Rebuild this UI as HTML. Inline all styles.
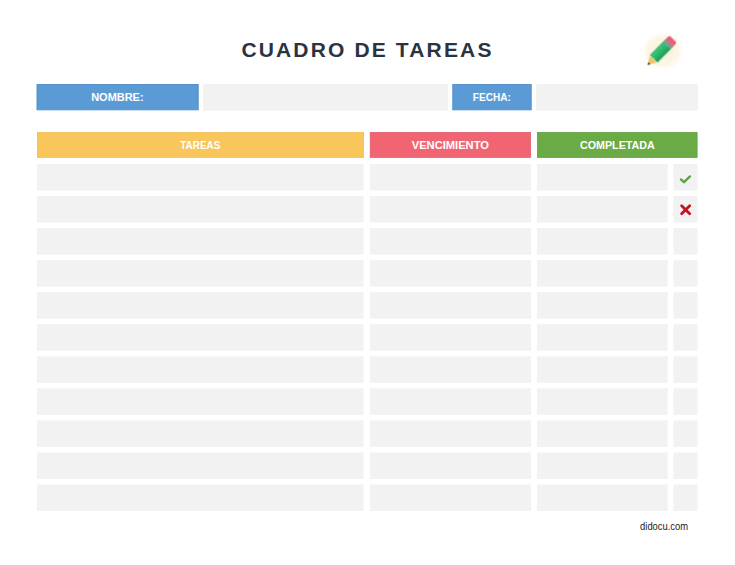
<!DOCTYPE html>
<html><head><meta charset="utf-8">
<title>Cuadro de tareas</title>
<style>
html,body{margin:0;padding:0;background:#fff;}
body{width:735px;height:565px;position:relative;overflow:hidden;font-family:"Liberation Sans",sans-serif;}
.b{position:absolute;box-sizing:border-box;}
#foot{position:absolute;left:639.5px;top:519.5px;font-size:10px;color:#222;line-height:14px;white-space:nowrap;transform-origin:0 50%;transform:scaleX(.945);will-change:transform;}
.t{position:absolute;color:transparent;font-weight:bold;white-space:nowrap;text-align:center;font-size:11.5px;line-height:26px;}
</style></head><body>
<svg class="b" style="left:0;top:0" width="735" height="565" viewBox="0 0 735 565">
<g fill="#f2f2f2">
<rect x="203" y="84" width="245" height="26.7"/>
<rect x="536.2" y="84" width="161.8" height="26.7"/>
<rect x="37" y="164.00" width="326.5" height="26.5"/>
<rect x="369.8" y="164.00" width="161.2" height="26.5"/>
<rect x="537" y="164.00" width="130.7" height="26.5"/>
<rect x="673.4" y="164.00" width="24.1" height="26.5"/>
<rect x="37" y="196.05" width="326.5" height="26.5"/>
<rect x="369.8" y="196.05" width="161.2" height="26.5"/>
<rect x="537" y="196.05" width="130.7" height="26.5"/>
<rect x="673.4" y="196.05" width="24.1" height="26.5"/>
<rect x="37" y="228.10" width="326.5" height="26.5"/>
<rect x="369.8" y="228.10" width="161.2" height="26.5"/>
<rect x="537" y="228.10" width="130.7" height="26.5"/>
<rect x="673.4" y="228.10" width="24.1" height="26.5"/>
<rect x="37" y="260.15" width="326.5" height="26.5"/>
<rect x="369.8" y="260.15" width="161.2" height="26.5"/>
<rect x="537" y="260.15" width="130.7" height="26.5"/>
<rect x="673.4" y="260.15" width="24.1" height="26.5"/>
<rect x="37" y="292.20" width="326.5" height="26.5"/>
<rect x="369.8" y="292.20" width="161.2" height="26.5"/>
<rect x="537" y="292.20" width="130.7" height="26.5"/>
<rect x="673.4" y="292.20" width="24.1" height="26.5"/>
<rect x="37" y="324.25" width="326.5" height="26.5"/>
<rect x="369.8" y="324.25" width="161.2" height="26.5"/>
<rect x="537" y="324.25" width="130.7" height="26.5"/>
<rect x="673.4" y="324.25" width="24.1" height="26.5"/>
<rect x="37" y="356.30" width="326.5" height="26.5"/>
<rect x="369.8" y="356.30" width="161.2" height="26.5"/>
<rect x="537" y="356.30" width="130.7" height="26.5"/>
<rect x="673.4" y="356.30" width="24.1" height="26.5"/>
<rect x="37" y="388.35" width="326.5" height="26.5"/>
<rect x="369.8" y="388.35" width="161.2" height="26.5"/>
<rect x="537" y="388.35" width="130.7" height="26.5"/>
<rect x="673.4" y="388.35" width="24.1" height="26.5"/>
<rect x="37" y="420.40" width="326.5" height="26.5"/>
<rect x="369.8" y="420.40" width="161.2" height="26.5"/>
<rect x="537" y="420.40" width="130.7" height="26.5"/>
<rect x="673.4" y="420.40" width="24.1" height="26.5"/>
<rect x="37" y="452.45" width="326.5" height="26.5"/>
<rect x="369.8" y="452.45" width="161.2" height="26.5"/>
<rect x="537" y="452.45" width="130.7" height="26.5"/>
<rect x="673.4" y="452.45" width="24.1" height="26.5"/>
<rect x="37" y="484.50" width="326.5" height="26.5"/>
<rect x="369.8" y="484.50" width="161.2" height="26.5"/>
<rect x="537" y="484.50" width="130.7" height="26.5"/>
<rect x="673.4" y="484.50" width="24.1" height="26.5"/>
</g>
<rect x="37" y="84.5" width="161.2" height="25.3" fill="#5b9bd5" stroke="#5591ca" stroke-width="1"/>
<rect x="452.8" y="84.5" width="78.4" height="25.3" fill="#5b9bd5" stroke="#5591ca" stroke-width="1"/>
<rect x="37.4" y="132.4" width="326.2" height="25" fill="#f8c65a" stroke="#efbf58" stroke-width=".8"/>
<rect x="370.2" y="132.4" width="160.4" height="25" fill="#f16573" stroke="#e05f6e" stroke-width=".8"/>
<rect x="537.5" y="132.4" width="159.6" height="25" fill="#6aab46" stroke="#63a041" stroke-width=".8"/>
<text id="titlep" x="241.4" y="56.8" font-family="'Liberation Sans',sans-serif" font-size="21" font-weight="bold" fill="#2b3342" textLength="250" lengthAdjust="spacing">CUADRO DE TAREAS</text>
<text id="footp" x="640.1" y="530.1" font-family="'Liberation Sans',sans-serif" font-size="10" fill="#1c1c1c" textLength="48" lengthAdjust="spacingAndGlyphs">didocu.com</text>
<g id="labp" font-family="'Liberation Sans',sans-serif" font-weight="bold" fill="#ffffff" text-anchor="middle">
<text x="117.4" y="101.23" font-size="10.9" textLength="52.4" lengthAdjust="spacingAndGlyphs">NOMBRE:</text>
<text x="491.85" y="101.23" font-size="10.9" textLength="38" lengthAdjust="spacingAndGlyphs">FECHA:</text>
<text x="200.25" y="148.83" font-size="11.25" textLength="40" lengthAdjust="spacingAndGlyphs">TAREAS</text>
<text x="450.35" y="148.83" font-size="11.25" textLength="77.2" lengthAdjust="spacingAndGlyphs">VENCIMIENTO</text>
<text x="617.4" y="148.83" font-size="11.25" textLength="74.9" lengthAdjust="spacingAndGlyphs">COMPLETADA</text>
</g>
</svg>

<svg class="b" style="left:636px;top:26px" width="56" height="50" viewBox="0 0 56 50">
<defs><filter id="bl" x="-10%" y="-30%" width="120%" height="160%"><feGaussianBlur stdDeviation=".3"/></filter><radialGradient id="gl" cx="50%" cy="50%" r="50%"><stop offset="0" stop-color="#faecd0" stop-opacity=".95"/><stop offset=".7" stop-color="#fcf3e0" stop-opacity=".7"/><stop offset="1" stop-color="#ffffff" stop-opacity="0"/></radialGradient></defs>
<ellipse cx="27" cy="25" rx="23" ry="21" fill="url(#gl)"/>
<g transform="translate(11.5,39.1) rotate(-45.4)" filter="url(#bl)">
<path d="M0 0 L8.7 -5 L8.7 5 Z" fill="#f5c469"/>
<path d="M0 0 L2.8 -1.55 L2.8 1.55 Z" fill="#4a4a4a"/>
<path d="M8.4 -5.2 H27.8 V5.2 H8.4 L9.6 3.4 L8.4 1.7 L9.6 0 L8.4 -1.7 L9.6 -3.4 Z" fill="#2db56c"/>
<rect x="9" y="-5.2" width="18.8" height="3.5" fill="#36c277"/>
<rect x="9" y="1.7" width="18.8" height="3.5" fill="#25a35f"/>
<rect x="27.6" y="-5.4" width="4.6" height="10.8" fill="#8f9291"/>
<path d="M32 -5.3 H34.8 Q36.5 -5.3 36.5 -3.6 V3.6 Q36.5 5.3 34.8 5.3 H32 Z" fill="#ee5a77"/>
</g>
</svg>

<svg class="b" style="left:679px;top:174px" width="14" height="12" viewBox="0 0 14 12"><path d="M1.9 5.4 L5 8.2 L11 2.4" fill="none" stroke="#5fa044" stroke-width="2.3" stroke-linecap="round" stroke-linejoin="round"/></svg>
<svg class="b" style="left:679.1px;top:203.4px" width="14" height="14" viewBox="0 0 14 14"><path d="M2.6 2.7 L10.7 10.8 M10.7 2.7 L2.6 10.8" fill="none" stroke="#c8101e" stroke-width="2.7" stroke-linecap="round"/></svg>

</body></html>
